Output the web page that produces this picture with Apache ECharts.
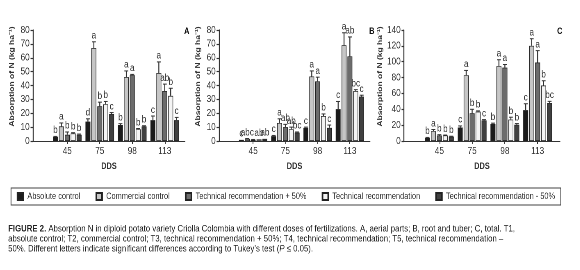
<!DOCTYPE html>
<html>
<head>
<meta charset="utf-8">
<script src="https://cdn.jsdelivr.net/npm/echarts@6/dist/echarts.min.js"></script>
<style>
  html, body { margin: 0; padding: 0; background: #fff; overflow: hidden; }
  #wrap { width: 580px; height: 270px; overflow: hidden; }
  /* the chart is laid out wider and squeezed back to 580px so that the text looks condensed */
  #chart { width: 707px; height: 270px; transform: scaleX(0.82); transform-origin: 0 0; }
</style>
</head>
<body>
<div id="wrap"><div id="chart"></div></div>
<script>
var categories = ['45', '75', '98', '113'];
var treatments = ['Absolute control', 'Commercial control', 'Technical recommendation + 50%',
  'Technical recommendation', 'Technical recommendation - 50%'];
var yTicksAB = [0, 10, 20, 30, 40, 50, 60, 70, 80];
var yTicksC = [0, 20, 40, 60, 80, 100, 120, 140];

// A, aerial parts (rows = T1..T5, columns = 45, 75, 98, 113 DDS)
var aerialMeans = [
  [3, 14, 11.5, 15],
  [10.5, 67, 46, 49],
  [4.5, 25, 47.5, 36],
  [5.5, 26.5, 8.5, 32.5],
  [4.5, 19.5, 10.5, 15]
];
var aerialErrors = [
  [0.3, 2, 1, 3],
  [2.5, 4.5, 4.5, 8],
  [2, 3, 0.5, 5],
  [0.5, 2, 0.5, 5.5],
  [0.5, 1, 0.5, 2]
];
var aerialLetters = [
  ['b', 'd', 'b', 'c'],
  ['a', 'a', 'a', 'a'],
  ['b', 'b', 'a', 'ab'],
  ['b', 'b', 'b', 'b'],
  ['b', 'c', 'b', 'c']
];

// B, root and tuber
var rootMeans = [
  [0.8, 3.5, 9.5, 23],
  [1.5, 13, 46.5, 69],
  [0.8, 10, 43, 61],
  [1.2, 8.5, 18, 36],
  [1.5, 6, 9.5, 32]
];
var rootErrors = [
  [0.2, 0.5, 0.5, 5.5],
  [0.3, 3, 4, 9],
  [0.3, 2, 3, 14],
  [0.2, 1.5, 1.5, 1],
  [0.2, 0.5, 2, 1]
];
var rootLetters = [
  ['c', 'c', 'c', 'c'],
  ['abc', 'a', 'a', 'a'],
  ['', 'ab', 'a', 'ab'],
  ['ab', 'ab', 'b', 'bc'],
  ['ab', 'bc', 'c', 'c']
];

// C, total
var totalMeans = [
  [4, 17, 21.5, 39],
  [12.5, 83, 94.5, 120],
  [7, 35, 92.5, 99],
  [7, 37, 27, 70],
  [5.5, 26, 20.5, 48]
];
var totalErrors = [
  [0.5, 2, 1, 8],
  [2, 6, 8, 9],
  [1, 5, 4, 15],
  [0.5, 1, 3, 6],
  [0.5, 1, 1.5, 2]
];
var totalLetters = [
  ['b', 'c', 'b', 'c'],
  ['a', 'a', 'a', 'a'],
  ['b', 'b', 'a', 'a'],
  ['b', 'b', 'b', 'b'],
  ['b', 'c', 'b', 'bc']
];

var colors = ['#1b1b1b', '#c6c6c6', '#6c6c6c', '#f4f4f4', '#404040'];
var FONT = "'Liberation Sans', Arial, sans-serif";
var INK = '#333';
var CAT_GAP = 0.12;
var BAR_GAP = 0.2;
var SX = 0.82;          // must match the css scaleX
var CW = 707;           // layout width before squeezing

function px(x) { return x / SX; }   // page x -> layout x

var panels = [
  { means: aerialMeans, errors: aerialErrors, letters: aerialLetters, ticks: yTicksAB,
    axisX: 33, barsFrom: 51, barsTo: 181, axisTo: 185, letter: 'A', letterX: 180, nameGap: 21 },
  { means: rootMeans, errors: rootErrors, letters: rootLetters, ticks: yTicksAB,
    axisX: 219, barsFrom: 237, barsTo: 366, axisTo: 370, letter: 'B', letterX: 365, nameGap: 21 },
  { means: totalMeans, errors: totalErrors, letters: totalLetters, ticks: yTicksC,
    axisX: 404, barsFrom: 423, barsTo: 554, axisTo: 560, letter: 'C', letterX: 553, nameGap: 22 }
];

var TOP = 30, BOTTOM = 141;

var grid = [], xAxis = [], yAxis = [], series = [], titles = [];

panels.forEach(function (p, k) {
  var yMax = p.ticks[p.ticks.length - 1];
  var step = p.ticks[1] - p.ticks[0];
  var fg = k * 2, bg = k * 2 + 1;

  // frame grid: y axis with ticks and the long x axis line
  grid.push({ left: px(p.axisX), right: CW - px(p.axisTo), top: TOP, height: BOTTOM - TOP });
  // bars grid
  grid.push({ left: px(p.barsFrom), right: CW - px(p.barsTo), top: TOP, height: BOTTOM - TOP });

  xAxis.push({
    type: 'value', gridIndex: fg, min: 0, max: 1,
    axisLine: { show: true, onZero: false, lineStyle: { color: INK, width: 1 } },
    axisTick: { show: false }, axisLabel: { show: false }, splitLine: { show: false },
    name: 'DDS', nameLocation: 'middle', nameGap: 21,
    nameTextStyle: { fontFamily: FONT, fontSize: 9, fontWeight: 'bold', color: INK }
  });
  xAxis.push({
    type: 'category', gridIndex: bg, data: categories,
    axisLine: { show: false },
    axisTick: { show: true, alignWithLabel: true, length: 3, lineStyle: { color: INK } },
    axisLabel: { fontFamily: FONT, fontSize: 10, color: INK, margin: 5 }
  });
  yAxis.push({
    type: 'value', gridIndex: fg, min: 0, max: yMax, interval: step,
    axisLine: { show: true, lineStyle: { color: INK, width: 1.2 } },
    axisTick: { show: true, length: 3, lineStyle: { color: INK, width: 1.2 } },
    axisLabel: { fontFamily: FONT, fontSize: 10, color: INK, margin: 4 },
    splitLine: { show: false },
    name: 'Absorption of N (kg ha\u207B\u00B9)', nameLocation: 'middle', nameGap: p.nameGap,
    nameTextStyle: { fontFamily: FONT, fontSize: 8.5, fontWeight: 'bold', color: INK, padding: [0, 0, 0, 18] }
  });
  yAxis.push({
    type: 'value', gridIndex: bg, min: 0, max: yMax, interval: step, show: false
  });

  titles.push({
    text: p.letter, left: px(p.letterX), top: 22,
    textStyle: { fontFamily: FONT, fontSize: 9, fontWeight: 'bold', color: '#111' }
  });

  treatments.forEach(function (name, i) {
    series.push({
      name: name, type: 'bar', xAxisIndex: bg, yAxisIndex: bg,
      barCategoryGap: (CAT_GAP * 100) + '%', barGap: (BAR_GAP * 100) + '%',
      itemStyle: { color: colors[i], borderColor: '#222', borderWidth: 0.7 },
      data: p.means[i], animation: false
    });
  });

  treatments.forEach(function (name, i) {
    var data = p.means[i].map(function (m, c) { return [c, m, p.errors[i][c]]; });
    series.push({
      name: name + ' error', type: 'custom', xAxisIndex: bg, yAxisIndex: bg,
      encode: { x: 0, y: 1 }, data: data, animation: false, z: 5,
      renderItem: function (params, api) {
        var c = api.value(0), m = api.value(1), e = api.value(2);
        var base = api.coord([c, m]);
        var tip = api.coord([c, m + e]);
        var band = api.size([1, 0])[0];
        var n = treatments.length;
        var bw = band * (1 - CAT_GAP) / (n + (n - 1) * BAR_GAP);
        var total = n * bw + (n - 1) * bw * BAR_GAP;
        var x = base[0] - total / 2 + i * bw * (1 + BAR_GAP) + bw / 2;
        var children = [];
        if (e > 0.25) {
          children.push({ type: 'line', shape: { x1: x, y1: base[1], x2: x, y2: tip[1] },
            style: { stroke: INK, lineWidth: 1.2 } });
          children.push({ type: 'line', shape: { x1: x - 2.4, y1: tip[1], x2: x + 2.4, y2: tip[1] },
            style: { stroke: INK, lineWidth: 1 } });
        }
        children.push({ type: 'text', x: x, y: tip[1] - 1,
          style: { text: p.letters[i][params.dataIndex], fontFamily: FONT, fontSize: 10,
            fill: INK, align: 'center', verticalAlign: 'bottom' } });
        return { type: 'group', children: children };
      }
    });
  });
});

titles.push({
  left: px(4), top: 219,
  text: '{b|FIGURE 2.} Absorption N in diploid potato variety Criolla Colombia with different doses of fertilizations. A, aerial parts; B, root and tuber; C, total. T1,\n' +
    'absolute control; T2, commercial control; T3, technical recommendation + 50%; T4, technical recommendation; T5, technical recommendation \u2013\n' +
    '50%. Different letters indicate significant differences according to Tukey\u2019s test ({i|P} \u2264 0.05).',
  textStyle: {
    fontFamily: FONT, fontSize: 9.5, color: '#222', fontWeight: 'normal', lineHeight: 10,
    rich: {
      b: { fontFamily: FONT, fontSize: 9.5, fontWeight: 'bold', color: '#222', lineHeight: 10 },
      i: { fontFamily: FONT, fontSize: 9.5, fontStyle: 'italic', color: '#222', lineHeight: 10 }
    }
  }
});

var chart = echarts.init(document.getElementById('chart'), null, { renderer: 'canvas', devicePixelRatio: 2 });
chart.setOption({
  animation: false,
  backgroundColor: '#fff',
  title: titles,
  legend: {
    data: treatments, left: px(11), top: 188, padding: [4, 7, 4, 7], itemGap: 18.5,
    itemWidth: 7, itemHeight: 7, icon: 'rect',
    borderColor: '#444', borderWidth: 1,
    textStyle: { fontFamily: FONT, fontSize: 9, color: INK }
  },
  grid: grid,
  xAxis: xAxis,
  yAxis: yAxis,
  series: series
});
</script>
</body>
</html>
